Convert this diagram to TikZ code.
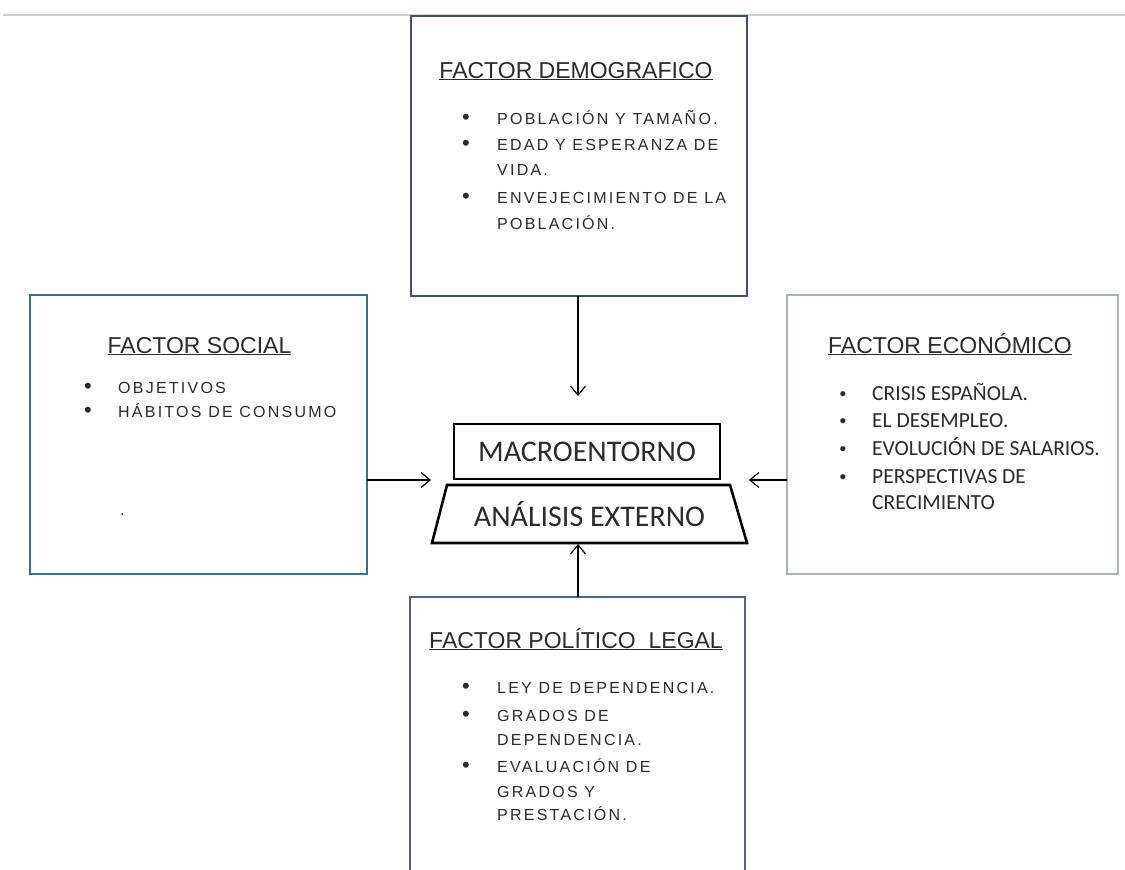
\documentclass[tikz,border=0pt]{standalone}
\usepackage{fontspec}
\setmainfont{Liberation Sans}
\newfontfamily\calfont{Carlito}
\newfontfamily\spacedfont[LetterSpace=14]{Liberation Sans}
\usetikzlibrary{arrows.meta}
\definecolor{txt}{HTML}{2B2B2B}
\definecolor{topc}{HTML}{3F5073}
\definecolor{leftc}{HTML}{2F7398}
\definecolor{rightc}{HTML}{A3B5C6}
\definecolor{botc}{HTML}{4D6289}
\definecolor{rulec}{HTML}{D0D0D0}
\tikzset{
  factorbox/.style={draw, line width=2.6pt, fill=white, inner sep=0pt, outer sep=0pt},
  ctrbox/.style={draw=black, line width=2.6pt, inner sep=2pt, outer sep=0pt, text=txt, font=\calfont\fontsize{30}{34}\selectfont},
  title/.style={anchor=base, inner sep=0pt, text=txt, font=\fontsize{23}{27}\selectfont},
  item/.style={anchor=base west, inner sep=0pt, text=txt, font=\spacedfont\fontsize{16}{18}\selectfont},
  citem/.style={anchor=base west, inner sep=0pt, text=txt, font=\calfont\fontsize{21.5}{25}\selectfont},
  bul/.style={anchor=base, inner sep=0pt, text=txt, font=\fontsize{22}{24}\selectfont},
  cbul/.style={anchor=base, inner sep=0pt, text=txt, font=\fontsize{19}{22}\selectfont},
  arr/.style={-{Straight Barb[length=9pt,width=15pt,line width=1.2pt]}, line width=1.2pt, black}
}
\begin{document}
\begin{tikzpicture}[x=1pt,y=-1pt]
\useasboundingbox (0,0) rectangle (1125,870);
% top rule
\draw[rulec, line width=1.2pt] (3,15) -- (1125,15);
% boxes
\node[factorbox, draw=topc, minimum width=336pt, minimum height=280pt] (demo) at (579,156) {};
\node[factorbox, draw=leftc, minimum width=337pt, minimum height=279pt] (social) at (198.5,434.5) {};
\node[factorbox, draw=rightc, line width=2.2pt, minimum width=331pt, minimum height=279pt] (econ) at (952.5,434.5) {};
\node[factorbox, draw=botc, minimum width=335pt, minimum height=290pt] (pol) at (577.5,742) {};
% centre
\node[ctrbox, minimum width=266pt, minimum height=55pt] (macro) at (587,451.5) {MACROENTORNO};
\node[ctrbox, draw=none, minimum width=315pt, minimum height=58pt] (anal) at (589.5,514) {ANÁLISIS EXTERNO};
\draw[black, line width=2.6pt, line join=miter] ([xshift=15pt]anal.north west) -- ([xshift=-17pt]anal.north east) -- (anal.south east) -- (anal.south west) -- cycle;
% arrows
\coordinate (tA) at (578,396);
\coordinate (lA) at (431,480);
\coordinate (rA) at (749,480);
\draw[arr] (demo.south -| tA) -- (tA);
\draw[arr] (lA -| social.east) -- (lA);
\draw[arr] (rA -| econ.west) -- (rA);
\draw[arr] (pol.north -| tA) -- ([yshift=-1pt]anal.south -| tA);
% demografico
\node[title] (t1) at (576,78) {\underline{FACTOR DEMOGRAFICO}};
\foreach \n/\y in {a/124,b/150,c/203} \node[bul] (d\n) at (466,\y) {•};
\node[item] (d1) at (497,124) {POBLACIÓN Y TAMAÑO.};
\node[item] (d2) at (497,150) {EDAD Y ESPERANZA DE};
\node[item] (d3) at (497,175) {VIDA.};
\node[item] (d4) at (497,203) {ENVEJECIMIENTO DE LA};
\node[item] (d5) at (497,229) {POBLACIÓN.};
% social
\node[title] (t2) at (199.5,353) {\underline{FACTOR SOCIAL}};
\foreach \n/\y in {a/393,b/417} \node[bul] (s\n) at (88,\y) {•};
\node[item] (s1) at (118,393) {OBJETIVOS};
\node[item] (s2) at (118,417) {HÁBITOS DE CONSUMO};
\node[item] (s3) at (120,515) {.};
% economico
\node[title] (t3) at (950,353) {\underline{FACTOR ECONÓMICO}};
\foreach \n/\y in {a/400,b/427,c/455,d/483} \node[cbul] (e\n) at (843,\y) {•};
\node[citem] (e1) at (872,400) {CRISIS ESPAÑOLA.};
\node[citem] (e2) at (872,427) {EL DESEMPLEO.};
\node[citem] (e3) at (872,455) {EVOLUCIÓN DE SALARIOS.};
\node[citem] (e4) at (872,483) {PERSPECTIVAS DE};
\node[citem] (e5) at (872,509) {CRECIMIENTO};
% politico legal
\node[title] (t4) at (576,648) {\underline{FACTOR POLÍTICO\ \ LEGAL}};
\foreach \n/\y in {a/693,b/721,c/772} \node[bul] (p\n) at (466,\y) {•};
\node[item] (p1) at (497,693) {LEY DE DEPENDENCIA.};
\node[item] (p2) at (497,721) {GRADOS DE};
\node[item] (p3) at (497,745) {DEPENDENCIA.};
\node[item] (p4) at (497,772) {EVALUACIÓN DE};
\node[item] (p5) at (497,797) {GRADOS Y};
\node[item] (p6) at (497,820) {PRESTACIÓN.};
\end{tikzpicture}
\end{document}
